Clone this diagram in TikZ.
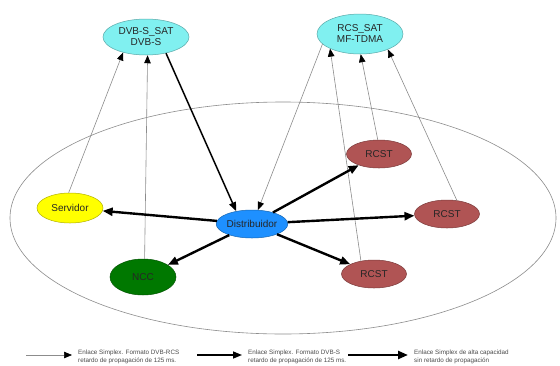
\documentclass[tikz,border=0pt]{standalone}
\usepackage{fontspec}
\setmainfont{Liberation Sans}
\usetikzlibrary{shapes.geometric,arrows.meta}

\definecolor{satcyan}{RGB}{128,240,240}
\definecolor{servyellow}{RGB}{255,255,0}
\definecolor{distblue}{RGB}{30,144,255}
\definecolor{nccgreen}{RGB}{0,120,0}
\definecolor{rcstred}{RGB}{176,84,84}
\definecolor{thingray}{RGB}{140,140,140}

\tikzset{
  blob/.style={ellipse, inner sep=0pt, draw=#1!70!black, fill=#1, line width=0.5pt,
               font=\fontsize{10}{11}\selectfont, align=center, text=black!85},
  rcslink/.style={-{Triangle[length=8pt,width=6.5pt,black]}, draw=thingray, line width=0.6pt},
  dvbslink/.style={-{Triangle[length=9pt,width=7pt]}, draw=black, line width=1.5pt},
  fastlink/.style={-{Triangle[length=10pt,width=8pt]}, draw=black, line width=2.4pt},
  legtext/.style={anchor=west, align=left, inner sep=0pt,
                  font=\fontsize{6.3}{7.6}\selectfont, text=black!70}
}

\begin{document}
\begin{tikzpicture}[x=1pt,y=-1pt]
\useasboundingbox (0,0) rectangle (560,365);
\fill[white] (0,0) rectangle (560,365);

% the network cloud
\draw[thingray, line width=0.6pt] (283,218) ellipse [x radius=273, y radius=116];

% satellites
\node[blob=satcyan, minimum width=86pt, minimum height=36pt] (dvbs) at (146,37) {DVB-S\_SAT\\DVB-S};
\node[blob=satcyan, minimum width=86pt, minimum height=40pt] (rcss) at (360,34) {RCS\_SAT\\MF-TDMA};

% ground stations
\node[blob=servyellow, minimum width=66pt, minimum height=30pt] (serv) at (70,208) {Servidor};
\node[blob=distblue, minimum width=66pt, minimum height=28pt] (dist) at (252,224) {Distribuidor};
\node[blob=nccgreen, minimum width=66pt, minimum height=36pt] (ncc) at (143,277) {NCC};
\node[blob=rcstred, minimum width=65pt, minimum height=28pt] (rcsta) at (379,154) {RCST};
\node[blob=rcstred, minimum width=65pt, minimum height=28pt] (rcstb) at (447,214) {RCST};
\node[blob=rcstred, minimum width=65pt, minimum height=28pt] (rcstc) at (374,274) {RCST};

% return links (DVB-RCS)
\draw[rcslink] (serv.95) -- (dvbs.214);
\draw[rcslink] (ncc.85) -- (dvbs.-85);
\draw[rcslink] (rcss.195) -- (dist.67);
\draw[rcslink] (rcstc.135) -- (rcss.206);
\draw[rcslink] (rcsta.95) -- (rcss.-88);
\draw[rcslink] (rcstb.54) -- (rcss.-29);

% forward link (DVB-S)
\draw[dvbslink] (dvbs.-39) -- (dist.141);

% high-capacity terrestrial links
\draw[fastlink] (dist) -- (serv);
\draw[fastlink] (dist) -- (ncc);
\draw[fastlink] (dist) -- (rcsta);
\draw[fastlink] (dist) -- (rcstb);
\draw[fastlink] (dist) -- (rcstc);

% legend
\coordinate (la0) at (26,355);  \coordinate (la1) at (72,355);
\coordinate (lb0) at (197,355); \coordinate (lb1) at (242,355);
\coordinate (lc0) at (348,355); \coordinate (lc1) at (408,355);
\draw[rcslink] (la0) -- (la1);
\draw[dvbslink] (lb0) -- (lb1);
\draw[fastlink] (lc0) -- (lc1);
\node[legtext] (ta) at (78,357) {Enlace Simplex. Formato DVB-RCS\\retardo de propagación de 125 ms.};
\node[legtext] (tb) at (248,357) {Enlace Simplex. Formato DVB-S\\retardo de propagación de 125 ms.};
\node[legtext] (tc) at (414,357) {Enlace Simplex de alta capacidad\\sin retardo de propagación};
\end{tikzpicture}
\end{document}
